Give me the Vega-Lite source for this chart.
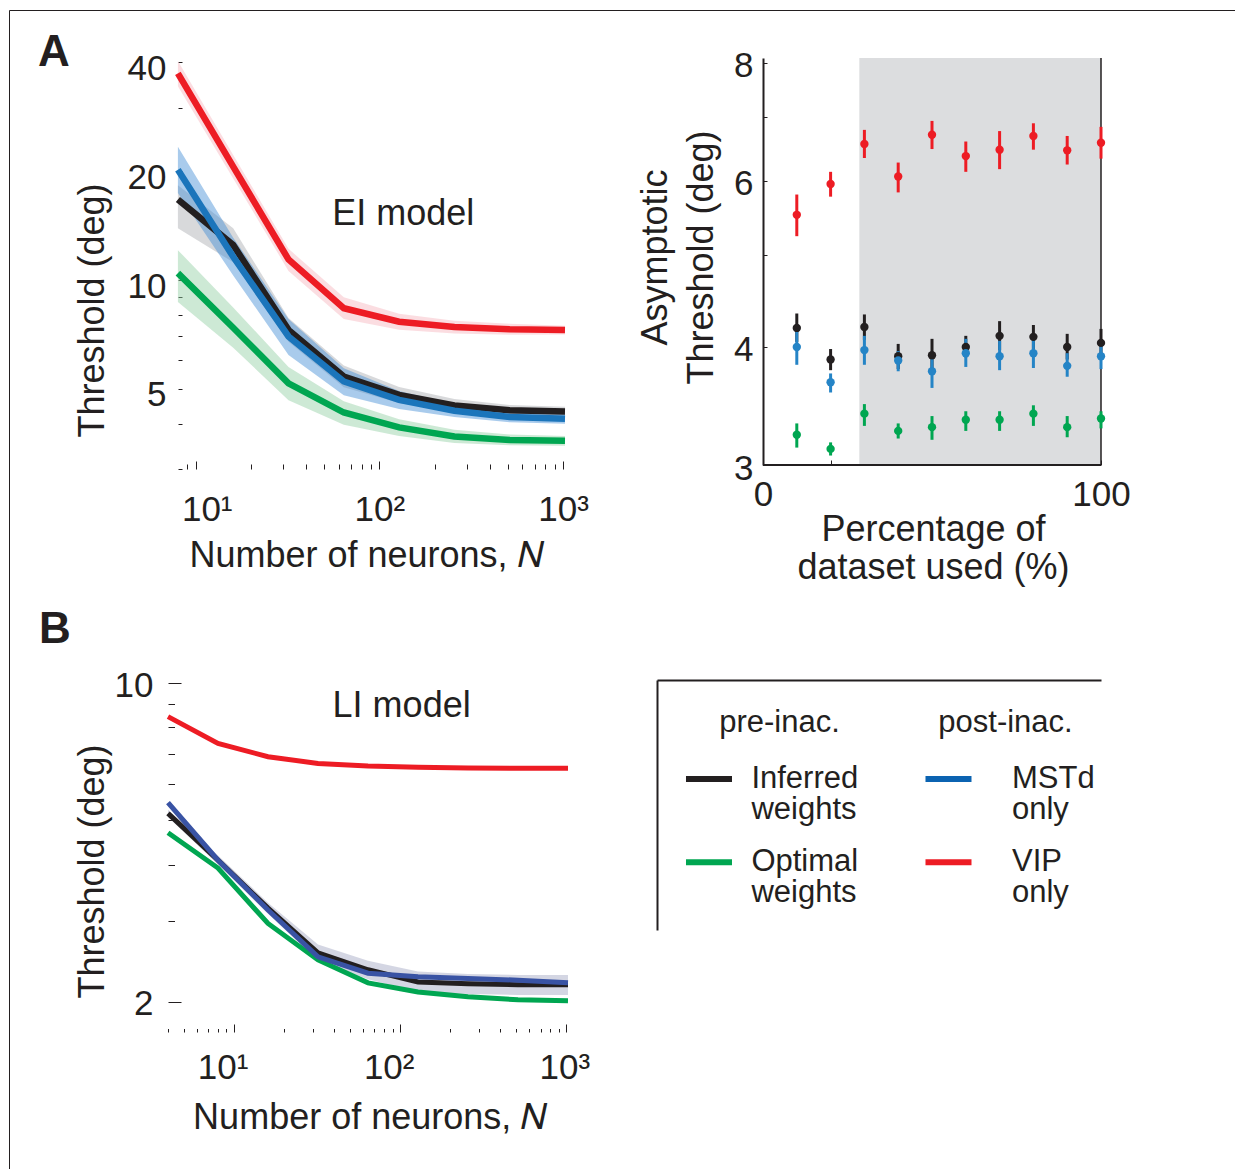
{
  "$schema": "https://vega.github.io/schema/vega-lite/v6.json",
  "autosize": {"type": "none"},
  "padding": {"left": 168, "top": 58, "right": 1067, "bottom": 1111},
  "background": "white",
  "config": {
    "font": "Liberation Sans",
    "view": {"stroke": null},
    "axis": {"grid": false, "labelColor": "#231f20", "titleColor": "#231f20", "tickColor": "#231f20", "domainColor": "#231f20", "labelFontSize": 35, "titleFontSize": 36, "titleFontWeight": "normal", "labelOverlap": false, "labelFlush": false, "tickWidth": 1, "labelFont": "Liberation Sans", "titleFont": "Liberation Sans"},
    "text": {"color": "#231f20", "font": "Liberation Sans"},
    "title": {"color": "#231f20", "font": "Liberation Sans"}
  },
  "datasets": {
    "ei": [
      {"series": "Optimal", "N": 8, "value": 10.45, "lo": 8.7, "hi": 12.1},
      {"series": "Optimal", "N": 16, "value": 7.38, "lo": 6.5, "hi": 8.4},
      {"series": "Optimal", "N": 32, "value": 5.18, "lo": 4.65, "hi": 5.75},
      {"series": "Optimal", "N": 64, "value": 4.30, "lo": 3.98, "hi": 4.62},
      {"series": "Optimal", "N": 128, "value": 3.91, "lo": 3.70, "hi": 4.12},
      {"series": "Optimal", "N": 256, "value": 3.69, "lo": 3.54, "hi": 3.85},
      {"series": "Optimal", "N": 512, "value": 3.61, "lo": 3.49, "hi": 3.74},
      {"series": "Optimal", "N": 1024, "value": 3.59, "lo": 3.48, "hi": 3.70},
      {"series": "VIP", "N": 8, "value": 37.3, "lo": 34.4, "hi": 40.4},
      {"series": "VIP", "N": 16, "value": 20.6, "lo": 19.1, "hi": 22.2},
      {"series": "VIP", "N": 32, "value": 11.4, "lo": 10.6, "hi": 12.2},
      {"series": "VIP", "N": 64, "value": 8.36, "lo": 7.8, "hi": 8.96},
      {"series": "VIP", "N": 128, "value": 7.67, "lo": 7.29, "hi": 8.07},
      {"series": "VIP", "N": 256, "value": 7.41, "lo": 7.11, "hi": 7.72},
      {"series": "VIP", "N": 512, "value": 7.31, "lo": 7.06, "hi": 7.57},
      {"series": "VIP", "N": 1024, "value": 7.27, "lo": 7.07, "hi": 7.47},
      {"series": "Inferred", "N": 8, "value": 16.7, "lo": 13.9, "hi": 18.3},
      {"series": "Inferred", "N": 16, "value": 12.5, "lo": 11.2, "hi": 13.9},
      {"series": "Inferred", "N": 32, "value": 7.28, "lo": 6.75, "hi": 7.85},
      {"series": "Inferred", "N": 64, "value": 5.41, "lo": 5.05, "hi": 5.8},
      {"series": "Inferred", "N": 128, "value": 4.81, "lo": 4.57, "hi": 5.06},
      {"series": "Inferred", "N": 256, "value": 4.5, "lo": 4.32, "hi": 4.69},
      {"series": "Inferred", "N": 512, "value": 4.36, "lo": 4.21, "hi": 4.51},
      {"series": "Inferred", "N": 1024, "value": 4.33, "lo": 4.2, "hi": 4.46},
      {"series": "MSTd", "N": 8, "value": 20.2, "lo": 17.4, "hi": 23.4},
      {"series": "MSTd", "N": 16, "value": 11.6, "lo": 10.3, "hi": 13.1},
      {"series": "MSTd", "N": 32, "value": 6.98, "lo": 6.2, "hi": 7.8},
      {"series": "MSTd", "N": 64, "value": 5.24, "lo": 4.8, "hi": 5.7},
      {"series": "MSTd", "N": 128, "value": 4.66, "lo": 4.4, "hi": 4.93},
      {"series": "MSTd", "N": 256, "value": 4.35, "lo": 4.18, "hi": 4.53},
      {"series": "MSTd", "N": 512, "value": 4.18, "lo": 4.04, "hi": 4.33},
      {"series": "MSTd", "N": 1024, "value": 4.13, "lo": 4.0, "hi": 4.27}
    ],
    "li": [
      {"series": "VIP", "N": 4, "value": 8.45},
      {"series": "VIP", "N": 8, "value": 7.38},
      {"series": "VIP", "N": 16, "value": 6.9},
      {"series": "VIP", "N": 32, "value": 6.67},
      {"series": "VIP", "N": 64, "value": 6.58},
      {"series": "VIP", "N": 128, "value": 6.54},
      {"series": "VIP", "N": 256, "value": 6.52},
      {"series": "VIP", "N": 512, "value": 6.51},
      {"series": "VIP", "N": 1024, "value": 6.51},
      {"series": "Optimal", "N": 4, "value": 4.7},
      {"series": "Optimal", "N": 8, "value": 3.93},
      {"series": "Optimal", "N": 16, "value": 2.97},
      {"series": "Optimal", "N": 32, "value": 2.47},
      {"series": "Optimal", "N": 64, "value": 2.2},
      {"series": "Optimal", "N": 128, "value": 2.1},
      {"series": "Optimal", "N": 256, "value": 2.05},
      {"series": "Optimal", "N": 512, "value": 2.02},
      {"series": "Optimal", "N": 1024, "value": 2.01},
      {"series": "Inferred", "N": 4, "value": 5.18, "lo": 5.09, "hi": 5.28},
      {"series": "Inferred", "N": 8, "value": 4.09, "lo": 4.0, "hi": 4.19},
      {"series": "Inferred", "N": 16, "value": 3.21, "lo": 3.12, "hi": 3.3},
      {"series": "Inferred", "N": 32, "value": 2.56, "lo": 2.46, "hi": 2.67},
      {"series": "Inferred", "N": 64, "value": 2.35, "lo": 2.24, "hi": 2.46},
      {"series": "Inferred", "N": 128, "value": 2.21, "lo": 2.1, "hi": 2.33},
      {"series": "Inferred", "N": 256, "value": 2.19, "lo": 2.08, "hi": 2.3},
      {"series": "Inferred", "N": 512, "value": 2.18, "lo": 2.07, "hi": 2.29},
      {"series": "Inferred", "N": 1024, "value": 2.18, "lo": 2.07, "hi": 2.29},
      {"series": "MSTd", "N": 4, "value": 5.47},
      {"series": "MSTd", "N": 8, "value": 4.09},
      {"series": "MSTd", "N": 16, "value": 3.18},
      {"series": "MSTd", "N": 32, "value": 2.51},
      {"series": "MSTd", "N": 64, "value": 2.31},
      {"series": "MSTd", "N": 128, "value": 2.27},
      {"series": "MSTd", "N": 256, "value": 2.25},
      {"series": "MSTd", "N": 512, "value": 2.23},
      {"series": "MSTd", "N": 1024, "value": 2.2}
    ],
    "pct": [
      {"series": "Inferred", "pct": 10, "value": 4.19, "lo": 4.05, "hi": 4.34},
      {"series": "Inferred", "pct": 20, "value": 3.88, "lo": 3.78, "hi": 3.98},
      {"series": "Inferred", "pct": 30, "value": 4.2, "lo": 4.07, "hi": 4.33},
      {"series": "Inferred", "pct": 40, "value": 3.91, "lo": 3.79, "hi": 4.03},
      {"series": "Inferred", "pct": 50, "value": 3.92, "lo": 3.78, "hi": 4.08},
      {"series": "Inferred", "pct": 60, "value": 4.0, "lo": 3.9, "hi": 4.11},
      {"series": "Inferred", "pct": 70, "value": 4.11, "lo": 3.97, "hi": 4.26},
      {"series": "Inferred", "pct": 80, "value": 4.1, "lo": 3.98, "hi": 4.22},
      {"series": "Inferred", "pct": 90, "value": 4.0, "lo": 3.88, "hi": 4.13},
      {"series": "Inferred", "pct": 100, "value": 4.04, "lo": 3.92, "hi": 4.18},
      {"series": "MSTd", "pct": 10, "value": 4.0, "lo": 3.83, "hi": 4.16},
      {"series": "MSTd", "pct": 20, "value": 3.67, "lo": 3.58, "hi": 3.75},
      {"series": "MSTd", "pct": 30, "value": 3.97, "lo": 3.83, "hi": 4.11},
      {"series": "MSTd", "pct": 40, "value": 3.87, "lo": 3.77, "hi": 3.96},
      {"series": "MSTd", "pct": 50, "value": 3.77, "lo": 3.62, "hi": 3.91},
      {"series": "MSTd", "pct": 60, "value": 3.94, "lo": 3.81, "hi": 4.08},
      {"series": "MSTd", "pct": 70, "value": 3.91, "lo": 3.78, "hi": 4.06},
      {"series": "MSTd", "pct": 80, "value": 3.94, "lo": 3.8, "hi": 4.08},
      {"series": "MSTd", "pct": 90, "value": 3.82, "lo": 3.72, "hi": 3.94},
      {"series": "MSTd", "pct": 100, "value": 3.91, "lo": 3.79, "hi": 4.03},
      {"series": "VIP", "pct": 10, "value": 5.52, "lo": 5.24, "hi": 5.8},
      {"series": "VIP", "pct": 20, "value": 5.95, "lo": 5.77, "hi": 6.13},
      {"series": "VIP", "pct": 30, "value": 6.56, "lo": 6.34, "hi": 6.79},
      {"series": "VIP", "pct": 40, "value": 6.06, "lo": 5.83, "hi": 6.27},
      {"series": "VIP", "pct": 50, "value": 6.71, "lo": 6.48, "hi": 6.94},
      {"series": "VIP", "pct": 60, "value": 6.37, "lo": 6.13, "hi": 6.6},
      {"series": "VIP", "pct": 70, "value": 6.47, "lo": 6.17, "hi": 6.77},
      {"series": "VIP", "pct": 80, "value": 6.69, "lo": 6.47, "hi": 6.9},
      {"series": "VIP", "pct": 90, "value": 6.46, "lo": 6.24, "hi": 6.69},
      {"series": "VIP", "pct": 100, "value": 6.58, "lo": 6.33, "hi": 6.84},
      {"series": "Optimal", "pct": 10, "value": 3.23, "lo": 3.13, "hi": 3.32},
      {"series": "Optimal", "pct": 20, "value": 3.12, "lo": 3.07, "hi": 3.17},
      {"series": "Optimal", "pct": 30, "value": 3.4, "lo": 3.3, "hi": 3.48},
      {"series": "Optimal", "pct": 40, "value": 3.26, "lo": 3.2, "hi": 3.32},
      {"series": "Optimal", "pct": 50, "value": 3.29, "lo": 3.19, "hi": 3.38},
      {"series": "Optimal", "pct": 60, "value": 3.35, "lo": 3.26, "hi": 3.42},
      {"series": "Optimal", "pct": 70, "value": 3.35, "lo": 3.26, "hi": 3.42},
      {"series": "Optimal", "pct": 80, "value": 3.4, "lo": 3.3, "hi": 3.47},
      {"series": "Optimal", "pct": 90, "value": 3.29, "lo": 3.21, "hi": 3.38},
      {"series": "Optimal", "pct": 100, "value": 3.36, "lo": 3.28, "hi": 3.42}
    ]
  },
  "columns": 2,
  "spacing": {"row": 211, "column": 89},
  "align": "each",
  "bounds": "flush",
  "resolve": {"scale": {"color": "independent", "fill": "independent", "stroke": "independent"}},
  "concat": [
    {
      "width": 397, "height": 411,
      "title": {"text": "A", "anchor": "start", "frame": "group", "fontSize": 44, "fontWeight": "bold", "offset": 0, "dx": -130, "dy": 100, "baseline": "alphabetic"},
      "data": {"name": "ei"},
      "layer": [
        {
          "mark": {"type": "area", "opacity": 0.45},
          "encoding": {
            "x": {"field": "N", "type": "quantitative", "scale": {"type": "log", "domain": [7.066, 1024], "nice": false},
              "axis": {"values": [9, 10, 20, 30, 40, 50, 60, 70, 80, 90, 100, 200, 300, 400, 500, 600, 700, 800, 900, 1000],
                "labelExpr": "datum.value == 10 ? '10¹' : datum.value == 100 ? '10²' : datum.value == 1000 ? '10³' : ''",
                "tickSize": {"condition": {"test": "datum.value == 10 || datum.value == 100 || datum.value == 1000", "value": -8}, "value": -5},
                "labelOffset": {"condition": {"test": "datum.value == 10", "value": 11}, "value": 0},
                "domain": false, "labelPadding": 31, "title": "Number of neurons, 𝑁", "titleX": 198, "titleY": 97, "titleBaseline": "alphabetic"}},
            "y": {"field": "lo", "type": "quantitative", "scale": {"type": "log", "domain": [3, 41.16], "nice": false},
              "axis": {"values": [3, 4, 5, 6, 7, 8, 9, 10, 20, 30, 40], "offset": -10,
                "labelExpr": "datum.value == 5 || datum.value == 10 || datum.value == 20 || datum.value == 40 ? '' + datum.value : ''",
                "tickSize": -4, "domain": false, "labelPadding": 16, "labelOffset": 6,
                "title": "Threshold (deg)", "titleX": -86, "titleY": 252, "titleBaseline": "middle", "titleAngle": -90}},
            "y2": {"field": "hi"},
            "fill": {"field": "series", "type": "nominal", "scale": {"domain": ["Optimal", "VIP", "Inferred", "MSTd"], "range": ["#90cea2", "#f6b3bc", "#a8abaf", "#408bd5"]},
              "legend": {"orient": "none", "legendX": -159, "legendY": -48, "padding": 1400, "strokeColor": "#231f20", "title": null, "labelExpr": "''", "symbolOpacity": 0, "symbolSize": 0}}
          }
        },
        {
          "mark": {"type": "line", "strokeWidth": 6.5},
          "encoding": {
            "x": {"field": "N", "type": "quantitative"},
            "y": {"field": "value", "type": "quantitative"},
            "color": {"field": "series", "type": "nominal", "scale": {"domain": ["Optimal", "VIP", "Inferred", "MSTd"], "range": ["#00a651", "#ed1c24", "#231f20", "#1b75bb"]},
              "legend": {"orient": "none", "legendX": -160, "legendY": -49, "padding": 1400, "strokeColor": "#231f20", "title": null, "labelExpr": "''", "symbolOpacity": 0, "symbolSize": 0}}
          }
        },
        {
          "data": {"values": [{"label": "EI model"}]},
          "mark": {"type": "text", "fontSize": 36, "align": "center", "baseline": "middle"},
          "encoding": {"x": {"datum": 134.8}, "y": {"datum": 15.2}, "text": {"field": "label", "type": "nominal"}}
        }
      ]
    },
    {
      "width": 444, "height": 407,
      "data": {"name": "pct"},
      "layer": [
        {
          "data": {"values": [{"start": 28.5, "end": 100}]},
          "mark": {"type": "rect", "color": "#dcdddf"},
          "encoding": {
            "x": {"field": "start", "type": "quantitative", "scale": {"domain": [-31.36, 100], "nice": false, "zero": false},
              "axis": {"values": [0, 20, 40, 60, 80, 100], "labelExpr": "datum.value == 0 || datum.value == 100 ? '' + datum.value : ''",
                "tickSize": -5, "domain": false, "labelPadding": 17.4,
                "title": ["Percentage of", "dataset used (%)"], "titleX": 276, "titleBaseline": "alphabetic", "titleY": 75.4, "titleLineHeight": 38}},
            "x2": {"field": "end"},
            "y": {"datum": 3},
            "y2": {"datum": 8.09}
          }
        },
        {
          "data": {"values": [{"edge": 100}]},
          "mark": {"type": "rule", "strokeWidth": 1.5, "color": "#231f20"},
          "encoding": {"x": {"field": "edge", "type": "quantitative"}}
        },
        {
          "data": {"values": [{"from": 0, "to": 100, "floor": 3}]},
          "mark": {"type": "rule", "strokeWidth": 2, "color": "#231f20"},
          "encoding": {"x": {"field": "from", "type": "quantitative"}, "x2": {"field": "to"}, "y": {"field": "floor", "type": "quantitative"}}
        },
        {
          "mark": {"type": "rule", "strokeWidth": 3},
          "encoding": {
            "x": {"field": "pct", "type": "quantitative"},
            "y": {"field": "lo", "type": "quantitative", "scale": {"type": "log", "domain": [3, 8.09], "nice": false},
              "axis": {"values": [3, 4, 5, 6, 7, 8], "offset": -106, "labelExpr": "datum.value == 5 || datum.value == 7 ? '' : '' + datum.value",
                "tickSize": -4, "domain": true, "domainWidth": 2, "labelPadding": 14, "labelOffset": 3,
                "title": ["Asymptotic", "Threshold (deg)"], "titleX": -108, "titleY": 199, "titleBaseline": "middle", "titleLineHeight": 46, "titleAngle": -90}},
            "y2": {"field": "hi"},
            "color": {"field": "series", "type": "nominal", "scale": {"domain": ["Inferred", "MSTd", "VIP", "Optimal"], "range": ["#231f20", "#2584c6", "#ed1c24", "#00a651"]}, "legend": null}
          }
        },
        {
          "mark": {"type": "point", "filled": true, "size": 70, "opacity": 1},
          "encoding": {
            "x": {"field": "pct", "type": "quantitative"},
            "y": {"field": "value", "type": "quantitative"},
            "color": {"field": "series", "type": "nominal", "legend": null}
          }
        }
      ]
    },
    {
      "width": 400, "height": 352,
      "title": {"text": "B", "anchor": "start", "frame": "group", "fontSize": 44, "fontWeight": "bold", "offset": 0, "dx": -129, "dy": 19, "baseline": "alphabetic"},
      "data": {"name": "li"},
      "layer": [
        {
          "transform": [{"filter": "datum.series === 'Inferred'"}],
          "mark": {"type": "area", "opacity": 0.45, "color": "#a0a3c0"},
          "encoding": {
            "x": {"field": "N", "type": "quantitative", "scale": {"type": "log", "domain": [4, 1024], "nice": false},
              "axis": {"values": [4, 5, 6, 7, 8, 9, 10, 20, 30, 40, 50, 60, 70, 80, 90, 100, 200, 300, 400, 500, 600, 700, 800, 900, 1000],
                "labelExpr": "datum.value == 10 ? '10¹' : datum.value == 100 ? '10²' : datum.value == 1000 ? '10³' : ''",
                "tickSize": {"condition": {"test": "datum.value == 10 || datum.value == 100 || datum.value == 1000", "value": -8}, "value": -3.5},
                "labelOffset": {"condition": {"test": "datum.value <= 100", "value": -11.5}, "value": -2},
                "domain": false, "labelPadding": 26.4, "title": "Number of neurons, 𝑁", "titleX": 201.7, "titleY": 96, "titleBaseline": "alphabetic"}},
            "y": {"field": "lo", "type": "quantitative", "scale": {"type": "log", "domain": [1.716, 10.168], "nice": false},
              "axis": {"values": [2, 3, 4, 5, 6, 7, 8, 9, 10],
                "labelExpr": "datum.value == 2 || datum.value == 10 ? '' + datum.value : ''",
                "tickSize": {"condition": {"test": "datum.value == 2 || datum.value == 10", "value": -13}, "value": -6.5},
                "domain": false, "labelPadding": 28, "labelOffset": 2,
                "title": "Threshold (deg)", "titleX": -76, "titleY": 191, "titleBaseline": "middle", "titleAngle": -90}},
            "y2": {"field": "hi"}
          }
        },
        {
          "mark": {"type": "line", "strokeWidth": 5},
          "encoding": {
            "x": {"field": "N", "type": "quantitative"},
            "y": {"field": "value", "type": "quantitative"},
            "color": {"field": "series", "type": "nominal", "scale": {"domain": ["VIP", "Optimal", "Inferred", "MSTd"], "range": ["#ed1c24", "#00a651", "#231f20", "#3953a4"]}, "legend": null}
          }
        },
        {
          "data": {"values": [{"label": "LI model"}]},
          "mark": {"type": "text", "fontSize": 36, "align": "center", "baseline": "middle"},
          "encoding": {"x": {"datum": 102}, "y": {"datum": 8.9}, "text": {"field": "label", "type": "nominal"}}
        }
      ]
    },
    {
      "width": 444, "height": 250,
      "data": {"values": [
        {"group": "pre-inac.", "order": 1, "label": "Inferred weights", "series": "Inferred"},
        {"group": "pre-inac.", "order": 2, "label": "Optimal weights", "series": "Optimal"},
        {"group": "post-inac.", "order": 1, "label": "MSTd only", "series": "MSTd"},
        {"group": "post-inac.", "order": 2, "label": "VIP only", "series": "VIP"}
      ]},
      "encoding": {
        "x": {"field": "group", "type": "nominal", "sort": ["pre-inac.", "post-inac."], "scale": {"type": "point", "padding": 0.4823, "align": 0.5596},
          "axis": {"orient": "top", "title": null, "domain": true, "domainWidth": 2, "ticks": false, "labelPadding": -51.7, "labelFontSize": 31, "labelBaseline": "alphabetic", "labelAngle": 0}},
        "y": {"field": "order", "type": "ordinal", "scale": {"type": "point", "padding": 1.0625, "align": 0.594},
          "axis": {"orient": "left", "title": null, "domain": true, "domainWidth": 2, "ticks": false, "labels": false}}
      },
      "layer": [
        {
          "transform": [{"filter": "datum.group === 'pre-inac.'"}],
          "mark": {"type": "point", "shape": "stroke", "filled": false, "size": 2116, "strokeWidth": 6, "xOffset": -70, "opacity": 1},
          "encoding": {"stroke": {"field": "series", "type": "nominal", "scale": {"domain": ["Inferred", "Optimal", "MSTd", "VIP"], "range": ["#231f20", "#00a651", "#0b63b1", "#ed1c24"]}, "legend": null}}
        },
        {
          "transform": [{"filter": "datum.group === 'post-inac.'"}],
          "mark": {"type": "point", "shape": "stroke", "filled": false, "size": 2116, "strokeWidth": 6, "xOffset": -56.5, "opacity": 1},
          "encoding": {"stroke": {"field": "series", "type": "nominal", "legend": null}}
        },
        {
          "transform": [{"filter": "datum.group === 'pre-inac.'"}],
          "mark": {"type": "text", "align": "left", "baseline": "alphabetic", "fontSize": 31, "lineBreak": " ", "lineHeight": 31, "dy": 9, "xOffset": -27.6},
          "encoding": {"text": {"field": "label", "type": "nominal"}}
        },
        {
          "transform": [{"filter": "datum.group === 'post-inac.'"}],
          "mark": {"type": "text", "align": "left", "baseline": "alphabetic", "fontSize": 31, "lineBreak": " ", "lineHeight": 31, "dy": 9, "xOffset": 7},
          "encoding": {"text": {"field": "label", "type": "nominal"}}
        }
      ]
    }
  ]
}
